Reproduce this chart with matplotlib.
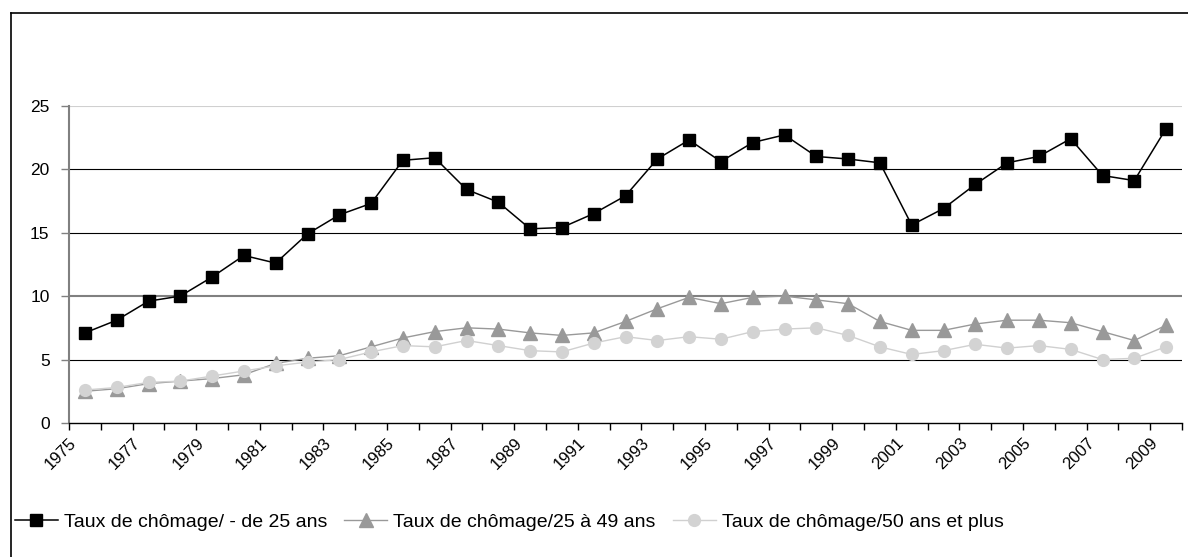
import matplotlib.pyplot as plt
from matplotlib.lines import Line2D

# données (taux de chômage en %)
years = list(range(1975, 2010))
moins_25 = [7.1, 8.1, 9.6, 10.0, 11.5, 13.2, 12.6, 14.9, 16.4, 17.3,
            20.7, 20.9, 18.4, 17.4, 15.3, 15.4, 16.5, 17.9, 20.8, 22.3,
            20.6, 22.1, 22.7, 21.0, 20.8, 20.5, 15.6, 16.9, 18.8, 20.5,
            21.0, 22.4, 19.5, 19.1, 23.2]
de_25_49 = [2.5, 2.7, 3.1, 3.3, 3.5, 3.8, 4.7, 5.1, 5.3, 6.0,
            6.7, 7.2, 7.5, 7.4, 7.1, 6.9, 7.1, 8.0, 9.0, 9.9,
            9.4, 9.9, 10.0, 9.7, 9.4, 8.0, 7.3, 7.3, 7.8, 8.1,
            8.1, 7.9, 7.2, 6.5, 7.7]
plus_50 = [2.6, 2.8, 3.2, 3.3, 3.7, 4.1, 4.5, 4.8, 5.0, 5.6,
           6.1, 6.0, 6.5, 6.1, 5.7, 5.6, 6.3, 6.8, 6.5, 6.8,
           6.6, 7.2, 7.4, 7.5, 6.9, 6.0, 5.4, 5.7, 6.2, 5.9,
           6.1, 5.8, 5.0, 5.1, 6.0]
labels = ["Taux de chômage/ - de 25 ans",
          "Taux de chômage/25 à 49 ans",
          "Taux de chômage/50 ans et plus"]
y_ticks = [0, 5, 10, 15, 20, 25]

plt.rcParams['font.family'] = ['Liberation Sans', 'DejaVu Sans']

fig = plt.figure(figsize=(11.88, 5.57), dpi=100)
ax = fig.add_axes([69 / 1188, 1 - 423 / 557, (1182 - 69) / 1188, (423 - 105.7) / 557])

x = [i + 0.5 for i in range(len(years))]

# lignes de grille (style Excel)
ax.axhline(5, color="black", lw=0.8, zorder=1)
ax.axhline(10, color="#808080", lw=1.5, zorder=1)
ax.axhline(15, color="black", lw=0.8, zorder=1)
ax.axhline(20, color="black", lw=0.8, zorder=1)
ax.axhline(25, color="#d0d0d0", lw=1.5, zorder=1)

ax.plot(x, moins_25, color="black", lw=1.1, marker="s", markersize=9,
        markerfacecolor="black", markeredgecolor="black", label=labels[0], zorder=3)
ax.plot(x, de_25_49, color="#999999", lw=1.0, marker="^", markersize=10,
        markerfacecolor="#999999", markeredgecolor="#999999", label=labels[1], zorder=3)
ax.plot(x, plus_50, color="#d0d0d0", lw=1.0, marker="o", markersize=8.5,
        markerfacecolor="#d3d3d3", markeredgecolor="#d3d3d3", label=labels[2], zorder=3)

ax.set_xlim(0, len(years))
ax.set_ylim(0, 25)
ax.set_yticks(y_ticks)
ax.set_yticklabels([str(v) for v in y_ticks], fontsize=12.5)

ax.set_xticks(range(len(years) + 1))
xlabels = []
for i in range(len(years) + 1):
    if i % 2 == 0 and i < len(years):
        xlabels.append(str(years[i]))
    else:
        xlabels.append("")
ax.set_xticklabels(xlabels, rotation=45, ha="right", rotation_mode="anchor", fontsize=12)

ax.tick_params(axis="y", length=6, width=1, color="#808080", pad=8)
ax.tick_params(axis="x", length=5, width=1, color="black", pad=4)

for side in ["top", "right"]:
    ax.spines[side].set_visible(False)
ax.spines["left"].set_color("#808080")
ax.spines["left"].set_linewidth(1.5)
ax.spines["bottom"].set_color("black")
ax.spines["bottom"].set_linewidth(1)

fig.legend(loc="center left", bbox_to_anchor=(15 / 1188, 35 / 557), ncol=3,
           frameon=False, fontsize=14, handlelength=2.2, handletextpad=0.3,
           columnspacing=0.9, borderpad=0, borderaxespad=0)

# cadre du graphique
fig.add_artist(Line2D([11 / 1188, 11 / 1188], [0, 1 - 13 / 557], color="black", lw=1.2))
fig.add_artist(Line2D([11 / 1188, 1], [1 - 13 / 557, 1 - 13 / 557], color="black", lw=1.2))

plt.savefig("out.png", dpi=100)
